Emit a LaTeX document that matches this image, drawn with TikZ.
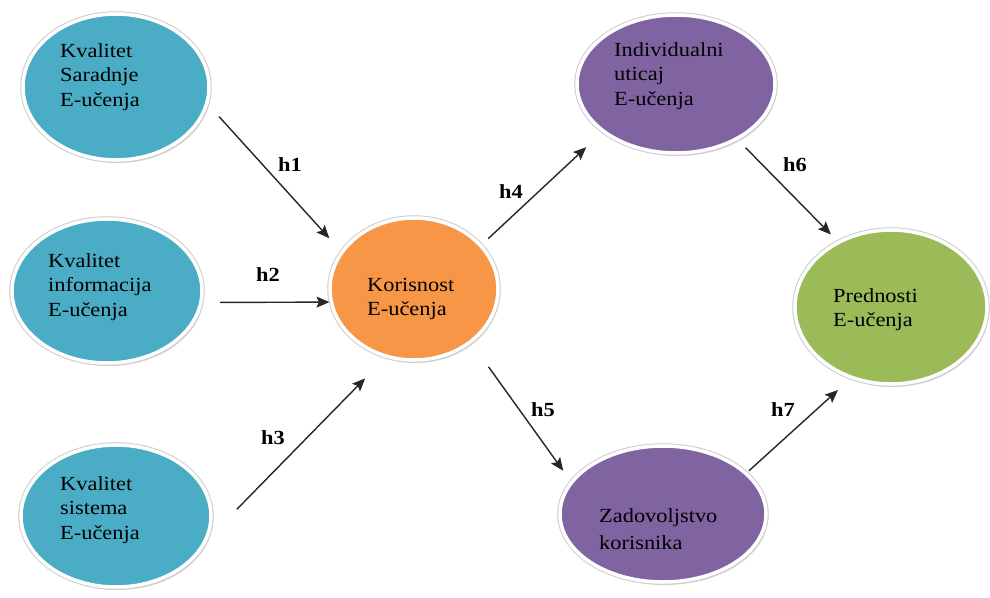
\documentclass[tikz,border=0pt]{standalone}
\usepackage{fontspec}
\setmainfont{Liberation Serif}[FakeStretch=1.12]
\usetikzlibrary{shapes.geometric,shadows,arrows.meta}
\definecolor{cteal}{HTML}{4BACC6}
\definecolor{corange}{HTML}{F79646}
\definecolor{cpurple}{HTML}{8064A2}
\definecolor{cgreen}{HTML}{9BBB59}
\newcommand\dsz{\fontsize{20}{24.5}\selectfont}
\newcommand\dszz{\fontsize{20}{27}\selectfont}
\begin{document}
\begin{tikzpicture}[x=1pt,y=-1pt,
  bubble/.style={ellipse, draw=white, line width=3.5pt, inner sep=0pt, outer sep=0pt,
    drop shadow={shadow xshift=2pt, shadow yshift=-3pt, opacity=0.3},
    preaction={draw=black!20, line width=5.5pt}},
  txt/.style={anchor=west, align=left, inner sep=0pt, font=\dsz, text=black},
  lab/.style={inner sep=0pt, font=\dsz\bfseries, text=black},
  arr/.style={-{Stealth[length=13pt,width=11pt,inset=2.5pt]}, line width=1.4pt, draw=black!85}]
\useasboundingbox (0,0) rectangle (990,597);
\fill[white] (0,0) rectangle (990,597);

% ellipses
\node[bubble, fill=cteal, minimum width=186pt, minimum height=146pt] (k1) at (116,87) {};
\node[bubble, fill=cteal, minimum width=190pt, minimum height=144pt] (k2) at (107,291) {};
\node[bubble, fill=cteal, minimum width=190pt, minimum height=142pt] (k3) at (116,516) {};
\node[bubble, fill=corange, minimum width=168pt, minimum height=142pt] (kor) at (414,289) {};
\node[bubble, fill=cpurple, minimum width=198pt, minimum height=138pt] (ind) at (676,84) {};
\node[bubble, fill=cgreen, minimum width=192pt, minimum height=154pt] (pred) at (891,307) {};
\node[bubble, fill=cpurple, minimum width=206pt, minimum height=136pt] (zad) at (663,514) {};

% texts
\node[txt] (t1) at (60,77) {Kvalitet\\Saradnje\\E-učenja};
\node[txt] (t2) at (48,287) {Kvalitet\\informacija\\E-učenja};
\node[txt] (t3) at (60,510) {Kvalitet\\sistema\\E-učenja};
\node[txt] (tkor) at (367,299) {Korisnost\\E-učenja};
\node[txt] (tind) at (614,76) {Individualni\\uticaj\\E-učenja};
\node[txt] (tpred) at (833,309.5) {Prednosti\\E-učenja};
\node[txt, font=\dszz] (tzad) at (599,529) {Zadovoljstvo\\korisnika};

% connectors
\draw[arr, shorten <=18.4pt, shorten >=19pt] (k1.-10.3) -- (kor.153.5);
\draw[arr, shorten <=19.3pt, shorten >=2pt] (k2.-7.3) -- (kor.189.6);
\draw[arr, shorten <=47.1pt, shorten >=31pt] (k3.-17.7) -- (kor.248.1);
\draw[arr, shorten <=10.5pt, shorten >=23.7pt] (kor.33.3) -- (ind.213);
\draw[arr, shorten <=31pt, shorten >=14.5pt] (kor.-43.8) -- (zad.161.1);
\draw[arr, shorten <=12.8pt, shorten >=11.1pt] (ind.-42.4) -- (pred.129.7);
\draw[arr, shorten <=4.2pt, shorten >=18.9pt] (zad.26.7) -- (pred.241.1);

% labels
\node[lab] (l1) at (290,165) {h1};
\node[lab] (l2) at (268,275) {h2};
\node[lab] (l3) at (273,438) {h3};
\node[lab] (l4) at (511,192) {h4};
\node[lab] (l5) at (543,410) {h5};
\node[lab] (l6) at (795,165) {h6};
\node[lab] (l7) at (783,410) {h7};
\end{tikzpicture}
\end{document}
